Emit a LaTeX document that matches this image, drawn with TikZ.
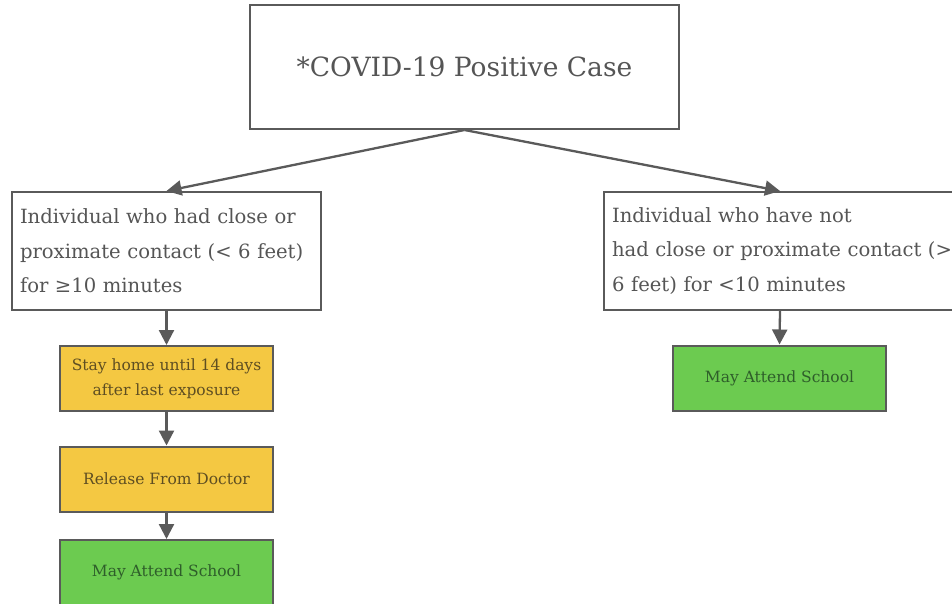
\documentclass[tikz,border=0pt]{standalone}
\usepackage{fontspec}
\setmainfont{DejaVu Serif}
\usetikzlibrary{arrows.meta}
\definecolor{ln}{HTML}{5A5A5A}
\definecolor{tx}{HTML}{555555}
\definecolor{yel}{HTML}{F4C842}
\definecolor{grn}{HTML}{6CCB50}
\definecolor{ytx}{HTML}{5E4E22}
\definecolor{gtx}{HTML}{2E5E2A}
\begin{document}
\begin{tikzpicture}[x=1pt,y=-1pt,
  box/.style={draw=ln, line width=2pt, fill=white, text=tx, inner sep=0pt},
  topbox/.style={box, minimum width=429pt, minimum height=124pt, font=\fontsize{26.5}{30}\selectfont},
  bigbox/.style={box, inner xsep=8pt, minimum height=118pt, align=left, font=\fontsize{19.6}{34.5}\selectfont},
  smallbox/.style={draw=ln, line width=2pt, inner sep=0pt, minimum width=213pt, minimum height=65pt, align=center, font=\fontsize{15.5}{25}\selectfont},
  yelbox/.style={smallbox, fill=yel, text=ytx},
  grnbox/.style={smallbox, fill=grn, text=gtx},
  arr/.style={draw=ln, line width=2.3pt, -{Triangle[width=15pt,length=15pt]}}
]
\useasboundingbox (0,0) rectangle (952,604);
\fill[white] (0,0) rectangle (952,604);
\node[topbox] (top) at (464.5,67) {*COVID-19 Positive Case};
\node[bigbox, text width=293pt] (left) at (166.5,251) {Individual who had close or\\proximate contact (< 6 feet)\\for ≥10 minutes};
\node[bigbox, text width=336pt] (right) at (780,251) {\mbox{Individual who have not}\\\mbox{had close or proximate contact (>}\\\mbox{6 feet) for <10 minutes}};
\node[yelbox] (stay) at (166.5,378.5) {Stay home until 14 days\\after last exposure};
\node[yelbox] (rel) at (166.5,479) {Release From Doctor};
\node[grnbox] (attL) at (166.5,572.5) {May Attend School};
\node[grnbox] (attR) at (779.5,378) {May Attend School};
\draw[arr] (top.south) -- (left.north);
\draw[arr] (top.south) -- (right.north);
\draw[arr] (left.south) -- (stay.north);
\draw[arr] (stay.south) -- (rel.north);
\draw[arr] (rel.south) -- (attL.north);
\draw[arr] (right.south) -- (attR.north);
\end{tikzpicture}
\end{document}
